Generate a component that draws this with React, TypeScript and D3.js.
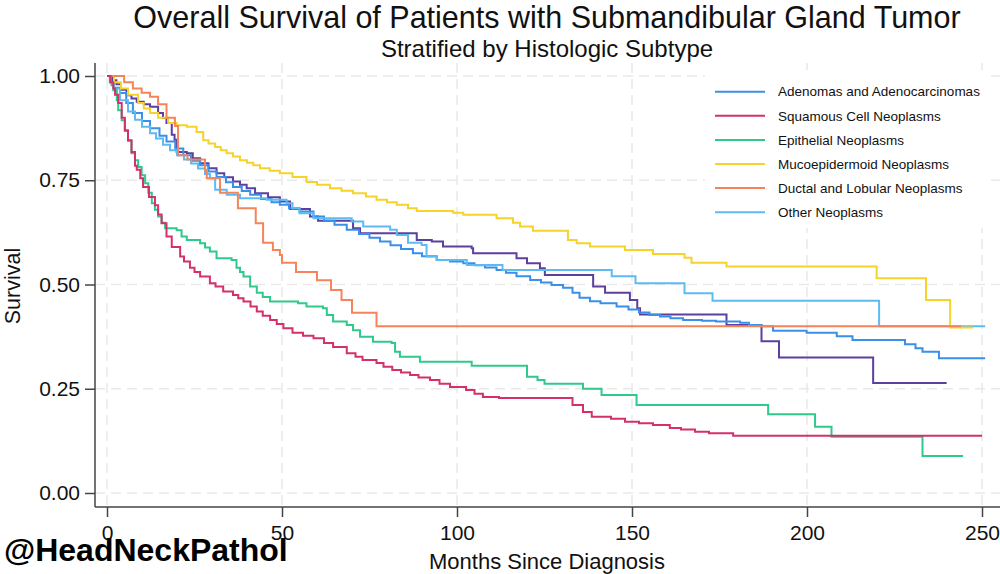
import { useEffect, useRef } from 'react';
import * as d3 from 'd3';

// Kaplan-Meier steps: [month, survival]
const adenomas: [number, number][] = [
  [0, 1], [1, 0.985], [2, 0.972], [3.7, 0.959], [5.5, 0.935], [7.4, 0.911], [10, 0.892], [12.3, 0.875],
  [15, 0.857], [17, 0.843], [19.5, 0.826], [21.8, 0.81], [24, 0.797], [26.6, 0.786], [29, 0.771], [31.3, 0.758],
  [34, 0.745], [36, 0.734], [38.5, 0.724], [40.9, 0.715], [44, 0.705], [47, 0.697], [49.4, 0.691], [52, 0.683],
  [55, 0.675], [59, 0.663], [62, 0.653], [65, 0.643], [68.5, 0.631], [72, 0.621], [75, 0.612], [78, 0.603],
  [81, 0.594], [84, 0.585], [87.4, 0.575], [90, 0.568], [94.2, 0.559], [98, 0.555], [101.8, 0.551], [105, 0.546],
  [108, 0.541], [111.3, 0.535], [114, 0.528], [117, 0.52], [120.9, 0.511], [124, 0.505], [127, 0.499], [130.3, 0.492],
  [133, 0.48], [135, 0.468], [138, 0.46], [141, 0.455], [145.6, 0.447], [149, 0.44], [152, 0.433], [155, 0.427],
  [158, 0.423], [161, 0.419], [164.6, 0.415], [170, 0.413], [174, 0.411], [180.9, 0.408], [183.4, 0.403], [187, 0.4],
  [190.3, 0.389], [199.9, 0.384], [208.5, 0.376], [213, 0.367], [228, 0.357], [231, 0.347], [233, 0.339],
  [237.7, 0.323], [250.9, 0.323],
];

const squamous: [number, number][] = [
  [0, 1], [1, 0.985], [1.8, 0.97], [2.3, 0.955], [3.2, 0.935], [4.2, 0.9], [5.1, 0.87], [6, 0.846], [7, 0.818],
  [8, 0.785], [8.5, 0.775], [9.5, 0.755], [10.3, 0.734], [12, 0.71], [13.7, 0.69], [14.6, 0.668], [15.6, 0.647],
  [17, 0.615], [18.5, 0.59], [20.9, 0.567], [22, 0.555], [23.7, 0.54], [25, 0.53], [26.6, 0.519], [29.4, 0.503],
  [31, 0.495], [33.2, 0.483], [36, 0.475], [37.5, 0.467], [39, 0.459], [41, 0.447], [42.8, 0.435], [44.5, 0.425],
  [46.6, 0.415], [48.5, 0.405], [50.4, 0.395], [53, 0.384], [56, 0.377], [59, 0.371], [62, 0.36], [64.6, 0.35],
  [68.5, 0.335], [71, 0.327], [73, 0.319], [77, 0.312], [79, 0.303], [81.5, 0.295], [84, 0.289], [86.6, 0.283],
  [89, 0.277], [92.3, 0.271], [95, 0.262], [98, 0.254], [102.6, 0.247], [105, 0.238], [107.4, 0.23], [112, 0.228],
  [133, 0.211], [136, 0.194], [138.5, 0.183], [144, 0.178], [148, 0.171], [152, 0.167], [156, 0.163],
  [160.8, 0.156], [164, 0.152], [168, 0.147], [172, 0.143], [178.9, 0.137], [250, 0.137],
];

const epithelial: [number, number][] = [
  [0, 1], [0.8, 0.985], [1.3, 0.978], [1.8, 0.966], [2.8, 0.942], [3.2, 0.918], [4.2, 0.894], [5.1, 0.868],
  [6, 0.845], [7, 0.815], [8, 0.798], [8.9, 0.782], [9.9, 0.762], [10.9, 0.743], [11.8, 0.72], [12.8, 0.695],
  [13.7, 0.679], [14.6, 0.663], [15.6, 0.648], [16.6, 0.635], [19.9, 0.63], [21.3, 0.615], [22.8, 0.607],
  [26.6, 0.599], [28, 0.589], [29.4, 0.579], [31.3, 0.563], [35.6, 0.559], [37, 0.54], [38, 0.53], [39, 0.519],
  [40.9, 0.495], [42.8, 0.48], [44.5, 0.47], [46.6, 0.459], [54.6, 0.455], [57, 0.447], [61.7, 0.443],
  [62.8, 0.427], [64.6, 0.411], [68.5, 0.403], [70.3, 0.39], [72.3, 0.375], [76, 0.363], [81.3, 0.36],
  [82.3, 0.339], [83.7, 0.327], [89.4, 0.315], [104.2, 0.305], [120, 0.279], [123, 0.271], [125, 0.262],
  [136, 0.25], [141.3, 0.235], [151.3, 0.211], [188.9, 0.189], [202.3, 0.159], [207, 0.135], [233, 0.089],
  [244.6, 0.089],
];

const mucoepidermoid: [number, number][] = [
  [0, 1], [2, 0.985], [4, 0.97], [6, 0.955], [8.9, 0.935], [10.5, 0.922], [12.3, 0.911], [14.6, 0.9],
  [17.5, 0.887], [19.9, 0.882], [22.8, 0.878], [25.6, 0.866], [27.5, 0.846], [29, 0.838], [30.9, 0.83],
  [32.5, 0.822], [34.2, 0.815], [36, 0.807], [38, 0.798], [40, 0.792], [41.8, 0.786], [43.7, 0.779],
  [46.5, 0.773], [49.4, 0.767], [53, 0.758], [57, 0.746], [60, 0.739], [63.7, 0.731], [67, 0.725], [70.3, 0.719],
  [74, 0.711], [77, 0.703], [80, 0.697], [82.8, 0.691], [86, 0.683], [88.5, 0.676], [98.9, 0.672],
  [101.8, 0.667], [111.3, 0.659], [116, 0.648], [118, 0.639], [121.7, 0.629], [131.7, 0.607], [134.2, 0.599],
  [138, 0.591], [148, 0.583], [156, 0.573], [165, 0.564], [167, 0.552], [177, 0.543], [219.9, 0.515],
  [234, 0.463], [240.9, 0.397], [247.5, 0.397],
];

const ductal: [number, number][] = [
  [0, 1], [4.9, 0.985], [7.4, 0.97], [9.9, 0.96], [12.3, 0.95], [14.6, 0.932], [17, 0.9], [19.4, 0.88],
  [20.3, 0.81], [23, 0.8], [28, 0.775], [28.5, 0.755], [32.3, 0.72], [37.4, 0.683], [42.5, 0.647], [44.6, 0.6],
  [47.4, 0.583], [49.4, 0.571], [50, 0.552], [54, 0.53], [60, 0.51], [64, 0.487], [67, 0.463], [70, 0.432],
  [77, 0.4], [244, 0.4],
];

const other: [number, number][] = [
  [0, 1], [1, 0.985], [2, 0.97], [3.7, 0.942], [6, 0.915], [8, 0.895], [10, 0.878], [12.3, 0.863], [14, 0.85],
  [16, 0.835], [18, 0.822], [20, 0.81], [22, 0.8], [24, 0.79], [26, 0.778], [28, 0.765], [29.4, 0.755],
  [30.9, 0.727], [34.2, 0.715], [38, 0.707], [45.6, 0.703], [51.3, 0.695], [53, 0.683], [55, 0.671], [59, 0.659],
  [69.9, 0.651], [73.2, 0.639], [80.9, 0.631], [82.8, 0.619], [86, 0.6], [89.9, 0.595], [91.3, 0.567],
  [94.2, 0.559], [102.8, 0.547], [113, 0.535], [144.2, 0.52], [151, 0.503], [165, 0.479], [173, 0.461],
  [220.6, 0.4], [250.9, 0.4],
];

// seventh group, drawn but missing from the legend
const unlabeled: [number, number][] = [
  [0, 1], [1.5, 0.99], [2.7, 0.98], [4, 0.967], [5.6, 0.954], [7, 0.946], [8.5, 0.938], [10.5, 0.932],
  [12.3, 0.926], [14.6, 0.911], [16, 0.899], [17, 0.887], [18.5, 0.859], [19.3, 0.847], [19.9, 0.818],
  [22.8, 0.815], [24.5, 0.803], [26.6, 0.791], [29, 0.779], [31.3, 0.767], [33.5, 0.757], [36, 0.747],
  [38, 0.739], [39.9, 0.731], [42.3, 0.719], [46, 0.709], [49.4, 0.699], [52.3, 0.681], [58, 0.663],
  [60.3, 0.653], [70.3, 0.635], [72.3, 0.623], [88.5, 0.607], [92.8, 0.603], [96, 0.591], [104.2, 0.587],
  [104.6, 0.575], [117, 0.563], [120, 0.551], [123.7, 0.539], [125.1, 0.523], [138.9, 0.495], [142.3, 0.48],
  [149.4, 0.463], [151.5, 0.443], [152.3, 0.428], [177, 0.403], [187, 0.364], [192, 0.325], [218.9, 0.264],
  [239.9, 0.264],
];

const series = [
  { label: 'Adenomas and Adenocarcinomas', color: '#3a8fe9', data: adenomas },
  { label: 'Squamous Cell Neoplasms', color: '#d3306c', data: squamous },
  { label: 'Epithelial Neoplasms', color: '#2ec98b', data: epithelial },
  { label: 'Mucoepidermoid Neoplasms', color: '#f6d32a', data: mucoepidermoid },
  { label: 'Ductal and Lobular Neoplasms', color: '#f6845a', data: ductal },
  { label: 'Other Neoplasms', color: '#5dbbf4', data: other },
  { label: '', color: '#5d3f9f', data: unlabeled },
];

const xTicks = [0, 50, 100, 150, 200, 250];
const yTicks = [0, 0.25, 0.5, 0.75, 1];

const FONT = '"Liberation Sans", Arial, sans-serif';

export default function App() {
  const svgRef = useRef<SVGSVGElement>(null);

  useEffect(() => {
    if (!svgRef.current) return;
    const W = 1000;
    const H = 574;
    const plot = { left: 95, top: 63, right: 1000, bottom: 507 };

    const svg = d3.select(svgRef.current);
    svg.selectAll('*').remove();
    svg.attr('width', W).attr('height', H).attr('font-family', FONT);

    svg.append('rect').attr('width', W).attr('height', H).attr('fill', '#fff');

    const x = d3.scaleLinear().domain([0, 250]).range([107, 982]);
    const y = d3.scaleLinear().domain([0, 1]).range([493, 76]);

    // grid
    const grid = svg.append('g')
      .attr('stroke', '#e9e9e9')
      .attr('stroke-width', 1.5)
      .attr('stroke-dasharray', '10,6');
    yTicks.forEach(t => {
      grid.append('line')
        .attr('x1', plot.left).attr('x2', plot.right)
        .attr('y1', y(t)).attr('y2', y(t));
    });
    xTicks.forEach(t => {
      grid.append('line')
        .attr('x1', x(t)).attr('x2', x(t))
        .attr('y1', plot.top).attr('y2', plot.bottom);
    });

    // axes
    const yAxis = svg.append('g')
      .attr('transform', `translate(${plot.left},0)`)
      .call(d3.axisLeft(y).tickValues(yTicks).tickFormat(d3.format('.2f')).tickSize(10).tickPadding(5));
    yAxis.select('.domain').attr('d', `M0,${plot.top}V${plot.bottom}`);

    const xAxis = svg.append('g')
      .attr('transform', `translate(0,${plot.bottom})`)
      .call(d3.axisBottom(x).tickValues(xTicks).tickFormat(d3.format('d')).tickSize(10).tickPadding(8));
    xAxis.select('.domain').attr('d', `M${plot.left},0H${plot.right}`);

    [yAxis, xAxis].forEach(a => {
      a.select('.domain').attr('stroke', '#444').attr('stroke-width', 1.5);
      a.selectAll('.tick line').attr('stroke', '#444').attr('stroke-width', 1.5);
      a.selectAll('.tick text')
        .attr('font-family', FONT)
        .attr('font-size', 21)
        .attr('fill', '#111');
    });

    // curves
    const line = d3.line<[number, number]>()
      .x(d => x(d[0]))
      .y(d => y(d[1]))
      .curve(d3.curveStepAfter);

    const drawOrder = [6, 0, 5, 3, 4, 2, 1];
    drawOrder.forEach(i => {
      svg.append('path')
        .datum(series[i].data)
        .attr('fill', 'none')
        .attr('stroke', series[i].color)
        .attr('stroke-width', 2)
        .attr('d', line);
    });

    // legend
    const legend = svg.append('g');
    legend.append('rect')
      .attr('x', 705).attr('y', 70)
      .attr('width', 285).attr('height', 158)
      .attr('fill', '#fff');
    const items = legend.selectAll('g.item')
      .data(series.filter(s => s.label))
      .join('g')
      .attr('class', 'item')
      .attr('transform', (d, i) => `translate(0,${91.7 + i * 24.1})`);
    items.append('line')
      .attr('x1', 715).attr('x2', 765)
      .attr('stroke', d => d.color)
      .attr('stroke-width', 2);
    items.append('text')
      .attr('x', 778)
      .attr('dy', '0.35em')
      .attr('font-size', 13.5)
      .attr('fill', '#111')
      .text(d => d.label);

    // titles
    svg.append('text')
      .attr('x', 547).attr('y', 28)
      .attr('text-anchor', 'middle')
      .attr('font-size', 30.5)
      .attr('fill', '#111')
      .text('Overall Survival of Patients with Submandibular Gland Tumor');
    svg.append('text')
      .attr('x', 547).attr('y', 57)
      .attr('text-anchor', 'middle')
      .attr('font-size', 24)
      .attr('fill', '#111')
      .text('Stratified by Histologic Subtype');
    svg.append('text')
      .attr('x', 547).attr('y', 569)
      .attr('text-anchor', 'middle')
      .attr('font-size', 22)
      .attr('fill', '#111')
      .text('Months Since Diagnosis');
    svg.append('text')
      .attr('transform', 'translate(20,286) rotate(-90)')
      .attr('text-anchor', 'middle')
      .attr('font-size', 21.5)
      .attr('fill', '#111')
      .text('Survival');
    svg.append('text')
      .attr('x', 4).attr('y', 561)
      .attr('font-size', 32)
      .attr('font-weight', 'bold')
      .attr('fill', '#000')
      .text('@HeadNeckPathol');
  }, []);

  return (
    <svg ref={svgRef} style={{ position: 'absolute', left: 0, top: 0, display: 'block' }} />
  );
}
